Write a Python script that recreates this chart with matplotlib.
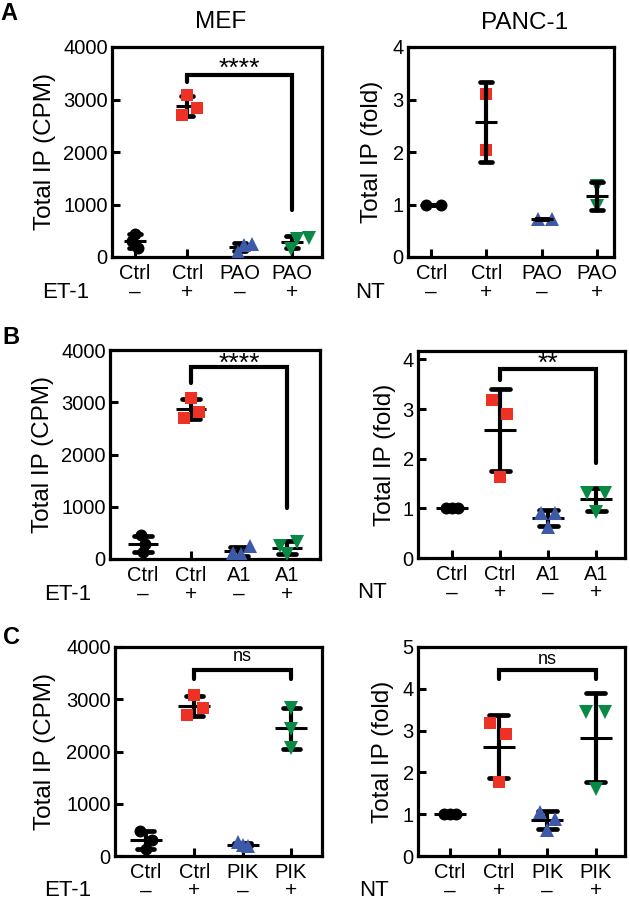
import numpy as np
import matplotlib
matplotlib.use("Agg")
import matplotlib.pyplot as plt
from matplotlib.transforms import offset_copy

plt.rcParams['font.family'] = ['Liberation Sans', 'DejaVu Sans']

W, H = 630, 900

# ---------------- data ----------------
groups_mef_A = ["Ctrl", "Ctrl", "PAO", "PAO"]
groups_panc_A = ["Ctrl", "Ctrl", "PAO", "PAO"]
groups_B = ["Ctrl", "Ctrl", "A1", "A1"]
groups_C = ["Ctrl", "Ctrl", "PIK", "PIK"]
signs = ["–", "+", "–", "+"]

# MEF (CPM)
A_mef = [[430, 300, 170], [3080, 2840, 2700], [100, 240, 230], [150, 370, 340]]
B_mef = [[450, 290, 140], [3080, 2820, 2700], [110, 90, 240], [250, 320, 90]]
C_mef = [[470, 310, 130], [3080, 2840, 2700], [260, 190, 210], [2840, 2440, 2060]]
# PANC-1 (fold)
A_panc = [[1.0, 1.0], [3.11, 2.03], [0.73, 0.73], [0.97, 1.35]]
B_panc = [[1.0, 1.0, 1.0], [3.18, 2.91, 1.64], [0.90, 0.90, 0.62], [1.31, 1.31, 0.92]]
C_panc = [[1.0, 1.0, 1.0], [3.17, 2.91, 1.76], [1.05, 0.89, 0.63], [3.45, 3.45, 1.60]]

# horizontal jitter of points within each group
J_A_mef = [[0.0, -0.05, 0.05], [-0.01, 0.19, -0.11], [-0.03, 0.24, 0.08], [-0.03, 0.32, 0.1]]
J_B_mef = [[-0.05, 0.05, 0.0], [0.0, 0.17, -0.15], [-0.13, 0.05, 0.22], [-0.14, 0.21, 0.0]]
J_C_mef = [[-0.12, 0.12, 0.0], [0.0, 0.17, -0.16], [-0.1, 0.12, 0.0], [0.0, 0.0, 0.0]]
J_A_panc = [[-0.1, 0.18], [0.0, 0.0], [-0.06, 0.18], [0.0, 0.0]]
J_3 = [[-0.12, 0.0, 0.12], [-0.17, 0.15, 0.0], [-0.15, 0.15, 0.0], [-0.2, 0.19, 0.0]]

# significance brackets: (x1, x2, top, left bottom, right bottom, text, text baseline)
sig_A_mef = (1, 3, 3460, 3333, 889, "****", 3450)
sig_B_mef = (1, 3, 3675, 3362, 970, "****", 3610)
sig_B_panc = (1, 3, 3.80, 3.59, 1.92, "**", 3.76)
sig_C_mef = (1, 3, 3560, 3382, 3382, "ns", 3730)
sig_C_panc = (1, 3, 4.45, 4.23, 4.23, "ns", 4.60)

markers = ["o", "s", "^", "v"]
colors = ["#000000", "#ED3124", "#3D5AA8", "#088A45"]
msizes = [8.6, 9.2, 9.6, 9.6]

fig = plt.figure(figsize=(W / 100, H / 100), dpi=100)


def make_ax(l, t, r, b):
    return fig.add_axes([l / W, 1 - b / H, (r - l) / W, (b - t) / H])


def panel(box, xlim, ylim, yticks, groups, data, jit, ylabel, ylabel_px,
          treat, mean_px=22, cap_px=12, bars_on_top=False, sig=None):
    l, t, r, b = box
    ax = make_ax(l, t, r, b)
    ax.set_xlim(*xlim)
    ax.set_ylim(*ylim)
    dx = (xlim[1] - xlim[0]) / (r - l)
    xs = np.arange(len(groups))
    zb, zm = (4, 3) if bars_on_top else (2, 3)
    for i, (vals, jj) in enumerate(zip(data, jit)):
        v = np.array(vals, dtype=float)
        m = v.mean()
        s = v.std(ddof=1)
        ax.plot(xs[i] + np.array(jj[:len(v)]), v, linestyle="none",
                marker=markers[i], ms=msizes[i], color=colors[i],
                markeredgewidth=0, zorder=zm)
        ax.plot([xs[i], xs[i]], [m - s, m + s], color="k", lw=3.0,
                solid_capstyle="butt", zorder=zb)
        for yy in (m - s, m + s):
            ax.plot([xs[i] - cap_px / 2 * dx, xs[i] + cap_px / 2 * dx], [yy, yy],
                    color="k", lw=3.4, solid_capstyle="round", zorder=zb)
        ax.plot([xs[i] - mean_px / 2 * dx, xs[i] + mean_px / 2 * dx], [m, m],
                color="k", lw=2.2, solid_capstyle="butt", zorder=zb)
    if sig is not None:
        x1, x2, top, lb, rb, txt, ty = sig
        ax.plot([x1, x1, x2, x2], [lb, top, top, rb], color="k", lw=3.0,
                solid_capstyle="round", solid_joinstyle="miter", zorder=2)
        fs = 19 if "*" in txt else 13
        ax.text((x1 + x2) / 2, ty, txt, ha="center", va="baseline", fontsize=fs)
    ax.set_xticks(xs)
    ax.set_xticklabels(groups, fontsize=14.5)
    ax.set_yticks(yticks)
    ax.set_yticklabels([str(y) for y in yticks], fontsize=14.5)
    ax.tick_params(axis="both", direction="in", length=5.5, width=2.2)
    ax.tick_params(axis="x", pad=5)
    ax.tick_params(axis="y", pad=3)
    for sp in ax.spines.values():
        sp.set_linewidth(2.3)
    ax.set_ylabel(ylabel, fontsize=17.5)
    ax.yaxis.set_label_coords((ylabel_px - l) / (r - l), 0.5)
    trans = offset_copy(ax.get_xaxis_transform(), fig=fig, x=0, y=-35, units="dots")
    for i, sgn in enumerate(signs):
        ax.text(xs[i], 0, sgn, transform=trans, ha="center", va="center", fontsize=15)
    fig.text(treat[1] / W, 1 - (b + 35) / H, treat[0], ha="center", va="center",
             fontsize=16)
    return ax


panel((112, 47, 322, 257), (-0.44, 3.57), (0, 4000), [0, 1000, 2000, 3000, 4000],
      groups_mef_A, A_mef, J_A_mef, "Total IP (CPM)", 56, ("ET-1", 66),
      sig=sig_A_mef)
panel((408, 47, 614, 257), (-0.42, 3.31), (0, 4), [0, 1, 2, 3, 4],
      groups_panc_A, A_panc, J_A_panc, "Total IP (fold)", 383, ("NT", 370),
      bars_on_top=True)
panel((110, 350, 320, 559), (-0.69, 3.69), (0, 4000), [0, 1000, 2000, 3000, 4000],
      groups_B, B_mef, J_B_mef, "Total IP (CPM)", 54, ("ET-1", 68),
      mean_px=30, cap_px=18, sig=sig_B_mef)
panel((418, 351, 625, 558), (-0.71, 3.6), (0, 4.17), [0, 1, 2, 3, 4],
      groups_B, B_panc, J_3, "Total IP (fold)", 396, ("NT", 372),
      mean_px=32, cap_px=19, sig=sig_B_panc)
panel((115, 647, 322, 856), (-0.64, 3.64), (0, 4000), [0, 1000, 2000, 3000, 4000],
      groups_C, C_mef, J_C_mef, "Total IP (CPM)", 56, ("ET-1", 68),
      mean_px=32, cap_px=17, sig=sig_C_mef)
panel((418, 647, 625, 856), (-0.66, 3.6), (0, 5), [0, 1, 2, 3, 4, 5],
      groups_C, C_panc, J_3, "Total IP (fold)", 394, ("NT", 374),
      mean_px=32, cap_px=19, sig=sig_C_panc)

fig.text(221 / W, 1 - 22 / H, "MEF", ha="center", va="center", fontsize=17.5)
fig.text(525 / W, 1 - 23 / H, "PANC-1", ha="center", va="center", fontsize=17.5)
for letter, (x, y) in zip(["A", "B", "C"], [(9, 13), (11, 338), (11, 638)]):
    fig.text(x / W, 1 - y / H, letter, ha="center", va="center", fontsize=17,
             fontweight="bold")

fig.savefig("out.png", dpi=100)
